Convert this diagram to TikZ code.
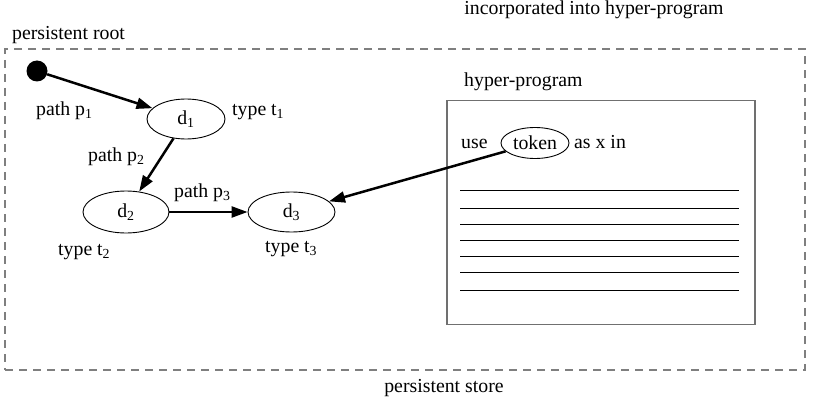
\documentclass[tikz,border=0pt]{standalone}
\usepackage{fontspec}
\setmainfont{Liberation Serif}
\usepackage{tikz}
\usetikzlibrary{arrows.meta,shapes.geometric}
\definecolor{storegray}{HTML}{7F7F7F}
\definecolor{boxgray}{HTML}{707070}

\begin{document}
\begin{tikzpicture}[
  x=1pt,
  y=-1pt,
  every node/.style={
    inner sep=0pt,
    font=\fontsize{19.8}{24}\selectfont
  },
  label/.style={
    anchor=base west
  },
  datum/.style={
    ellipse,
    draw=black,
    line width=0.9pt,
    minimum width=86pt,
    minimum height=41pt
  },
  link/.style={
    -{Triangle[length=16pt,width=11pt]},
    draw=black,
    line width=2.5pt
  },
  storebox/.style={
    rectangle,
    draw=storegray,
    line width=1.8pt,
    dash pattern=on 8pt off 6pt,
    minimum width=800pt,
    minimum height=321pt
  },
  progbox/.style={
    rectangle,
    draw=boxgray,
    line width=1.5pt,
    minimum width=308pt,
    minimum height=224pt
  },
  codeline/.style={
    draw=black,
    line width=1pt
  }
]
\useasboundingbox (0,0) rectangle (814,404);

% Store and hyper-program frames
\node[storebox] (store) at (405,209.5) {};
\node[progbox]  (hyper) at (601,212.5) {};

% Titles
\node[anchor=base] (incorp) at (594,14.5) {incorporated into hyper-program};
\node[label] (rootlbl)  at (12,40)  {persistent root};
\node[label] (hyperlbl) at (464,87) {hyper-program};
\node[anchor=base] (storelbl) at (444,392) {persistent store};

% Root and data objects
\node[circle, fill=black, minimum size=21pt] (root) at (37,71) {};
\node[datum, minimum width=78pt, minimum height=40pt] (d1) at (186,119) {d\textsubscript{1}};
\node[datum, minimum height=42pt] (d2) at (126,212) {d\textsubscript{2}};
\node[datum, minimum width=87pt, minimum height=40pt] (d3) at (291.5,212) {d\textsubscript{3}};

% Path and type labels
\node[label] (p1) at (36,115)  {path p\textsubscript{1}};
\node[label] (t1) at (232,115) {type t\textsubscript{1}};
\node[label] (p2) at (88,161)  {path p\textsubscript{2}};
\node[label] (p3) at (174,197) {path p\textsubscript{3}};
\node[label] (t2) at (58,255)  {type t\textsubscript{2}};
\node[label] (t3) at (265,252) {type t\textsubscript{3}};

% Hyper-program contents
\node[label] (use) at (461,148) {use};
\node[datum, minimum width=68pt, minimum height=31pt] (token) at (535,143) {token};
\node[label] (asx) at (574,148) {as x in};
\foreach \y in {190,208,224,240,256,272,290}
  \draw[codeline] (460,\y) -- (739,\y);

% Links
\draw[link] (root) -- (d1);
\draw[link] (d1) -- (d2);
\draw[link] (d2) -- (d3);
\draw[link] (token) -- (d3);

\end{tikzpicture}
\end{document}
